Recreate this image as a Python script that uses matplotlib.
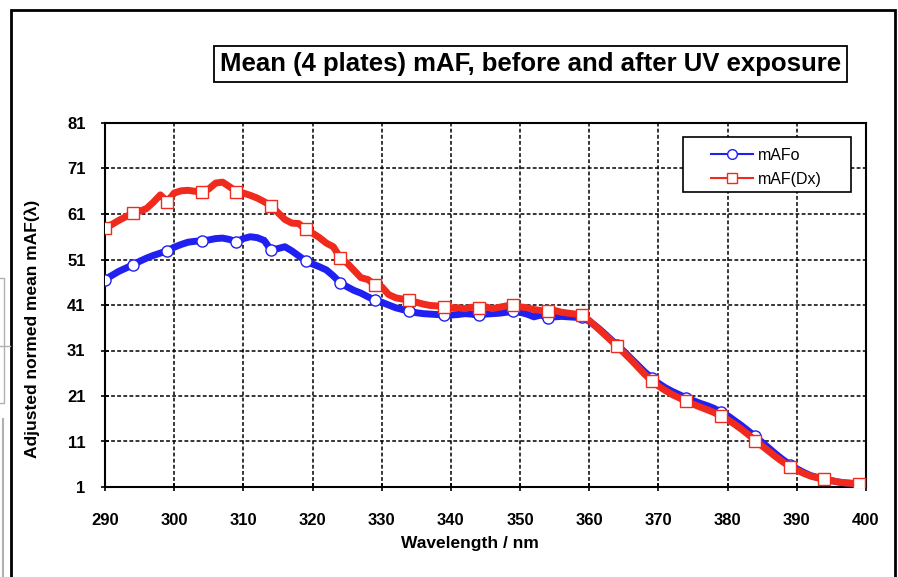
import matplotlib.pyplot as plt
from matplotlib.lines import Line2D
from matplotlib.patches import Rectangle
import numpy as np

plt.rcParams['font.family'] = ['Liberation Sans', 'DejaVu Sans']

# wavelength in nm, 1 nm steps
wavelength = list(range(290, 401))

mafo = [46.6, 47.5, 48.4, 49.1, 49.8, 50.6, 51.3, 51.9, 52.4, 52.9,
        53.7, 54.3, 54.8, 55.0, 55.1, 55.3, 55.6, 55.7, 55.4, 54.9,
        55.6, 56.0, 55.8, 55.2, 53.1, 53.4, 53.8, 52.9, 51.8, 50.7,
        50.0, 49.4, 48.7, 47.4, 45.9, 45.0, 44.2, 43.6, 42.8, 42.1,
        41.6, 41.0, 40.4, 40.0, 39.7, 39.3, 39.1, 39.0, 38.9, 38.8,
        38.8, 38.9, 39.1, 39.0, 38.7, 39.0, 39.1, 39.2, 39.4, 39.6,
        39.4, 39.0, 38.4, 38.8, 38.2, 38.4, 38.5, 38.4, 38.3, 38.3,
        37.4, 36.3, 35.0, 33.6, 32.2, 30.8, 29.3, 27.8, 26.3, 25.0,
        23.8, 22.8, 22.0, 21.3, 20.6, 20.0, 19.4, 18.9, 18.3, 17.5,
        16.7, 15.6, 14.5, 13.3, 12.1, 10.8, 9.5, 8.2, 7.0, 5.9,
        5.0, 4.2, 3.5, 3.1, 2.7, 2.4, 2.1, 1.9, 1.8, 1.7, 1.6]

maf_dx = [58.0, 58.7, 59.6, 60.4, 61.2, 61.6, 62.2, 63.6, 65.2, 63.7,
          65.6, 66.1, 66.2, 66.0, 65.8, 66.5, 67.8, 68.0, 67.0, 65.9,
          65.6, 65.1, 64.5, 63.7, 62.8, 61.3, 59.8, 59.0, 58.9, 57.6,
          56.8, 55.8, 54.6, 53.8, 51.4, 50.2, 48.6, 47.0, 46.6, 45.4,
          45.0, 43.3, 42.6, 42.3, 42.1, 41.6, 41.2, 40.9, 40.8, 40.6,
          40.4, 40.4, 40.2, 40.5, 40.4, 40.6, 40.2, 40.5, 40.8, 41.0,
          40.6, 40.4, 40.0, 39.8, 39.6, 39.8, 39.4, 39.2, 39.0, 38.8,
          37.6, 36.2, 34.8, 33.4, 32.0, 30.5, 29.0, 27.4, 25.8, 24.4,
          23.2, 22.2, 21.3, 20.6, 19.8, 19.2, 18.6, 18.0, 17.4, 16.6,
          15.8, 14.8, 13.7, 12.5, 11.2, 10.0, 8.8, 7.6, 6.5, 5.5,
          4.7, 4.0, 3.4, 3.0, 2.7, 2.4, 2.1, 1.9, 1.8, 1.7, 1.6]

series_labels = ['mAFo', 'mAF(Dx)']
x_ticks = list(range(290, 401, 10))
y_ticks = list(range(1, 82, 10))

blue = '#2020f0'
red = '#f02a1c'
marks = [0] + list(range(4, len(wavelength), 5))

fig = plt.figure(figsize=(8.98, 5.77), dpi=100)
ax = fig.add_axes([105 / 898, 1 - 487 / 577, 761 / 898, 364 / 577])

ax.plot(wavelength, mafo, color=blue, lw=5, marker='o', ms=8,
        mfc='white', mec=blue, mew=1.0, markevery=marks, zorder=3)
ax.plot(wavelength, maf_dx, color=red, lw=5, marker='s', ms=8.5,
        mfc='white', mec=red, mew=1.0, markevery=marks, zorder=4)

ax.set_xlim(290, 400)
ax.set_ylim(1, 81)
ax.set_xticks(x_ticks)
ax.set_yticks(y_ticks)
ax.grid(True, color='black', linestyle=(0, (2.5, 1.5)), linewidth=1.1)
ax.tick_params(direction='inout', length=6, width=1.2, labelsize=12)
for lab in ax.get_xticklabels() + ax.get_yticklabels():
    lab.set_fontweight('bold')
for s in ax.spines.values():
    s.set_linewidth(1.5)
ax.tick_params(axis='x', pad=16)
ax.tick_params(axis='y', pad=11)

ax.set_xlabel('Wavelength / nm', fontsize=12.5, fontweight='bold', va='center')
ax.xaxis.set_label_coords(0.48, -0.154)
ax.set_ylabel('Adjusted normed mean mAF(λ)', fontsize=12.5, fontweight='bold', va='center')
ax.yaxis.set_label_coords(-0.096, 0.434)

# legend with a hand-drawn frame
ax.add_patch(Rectangle((0.7595, 0.8104), 0.2208, 0.1511, transform=ax.transAxes,
                       facecolor='white', edgecolor='black', lw=1.2, zorder=6))
handles = [Line2D([], [], color=blue, lw=1.5, marker='o', ms=7, mfc='white', mec=blue),
           Line2D([], [], color=red, lw=1.5, marker='s', ms=7, mfc='white', mec=red)]
leg = ax.legend(handles, series_labels, loc='center', bbox_to_anchor=(0.869, 0.878),
                frameon=False, fontsize=11.5, handlelength=2.6, handletextpad=0.3,
                labelspacing=0.55)
leg.set_zorder(7)

fig.text(530.5 / 898, 1 - 64 / 577, 'Mean (4 plates) mAF, before and after UV exposure',
         ha='center', va='center', fontsize=18.5, fontweight='bold',
         bbox=dict(boxstyle='square,pad=0.22', facecolor='white', edgecolor='black', lw=1.3))

# outer frame of the chart
fig.add_artist(Rectangle((11 / 898, -0.05), 884 / 898, 1.05 - 10 / 577,
                         transform=fig.transFigure, fill=False, edgecolor='black', lw=2))
# grey bits at the left edge
fig.add_artist(Rectangle((-0.01, 1 - 403 / 577), 0.01 + 4 / 898, 125 / 577,
                         transform=fig.transFigure, fill=False, edgecolor='#b0b0b0', lw=1))
fig.add_artist(Line2D([0, 10 / 898], [1 - 346 / 577] * 2, transform=fig.transFigure,
                      color='#b0b0b0', lw=1))
fig.add_artist(Line2D([3 / 898] * 2, [0, 1 - 419 / 577], transform=fig.transFigure,
                      color='#b0b0b0', lw=1.5))

fig.savefig('out.png', dpi=100)
